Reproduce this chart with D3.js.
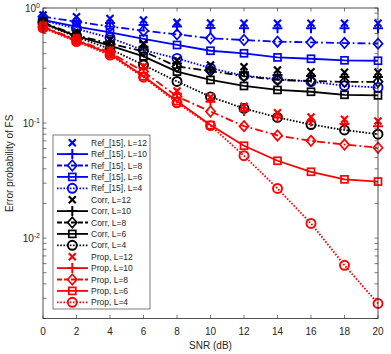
<!DOCTYPE html>
<html>
<head>
<meta charset="utf-8">
<script src="https://cdn.jsdelivr.net/npm/d3@7/dist/d3.min.js"></script>
<style>
  body { margin:0; background:#fff; }
  svg { display:block; font-family:"Liberation Sans", Arial, sans-serif; }
</style>
</head>
<body>
<script>
// SNR values (dB)
var snr = [0, 2, 4, 6, 8, 10, 12, 14, 16, 18, 20];

// Ref_[15]
var ref12 = [0.87, 0.84, 0.81, 0.785, 0.75, 0.74, 0.736, 0.736, 0.736, 0.736, 0.736];
var ref10 = [0.80, 0.77, 0.74, 0.71, 0.69, 0.67, 0.666, 0.666, 0.666, 0.666, 0.666];
var ref8  = [0.84, 0.76, 0.69, 0.635, 0.59, 0.545, 0.527, 0.51, 0.503, 0.496, 0.49];
var ref6  = [0.79, 0.69, 0.615, 0.538, 0.477, 0.425, 0.404, 0.372, 0.362, 0.351, 0.348];
var ref4  = [0.78, 0.66, 0.55, 0.43, 0.365, 0.30, 0.258, 0.241, 0.229, 0.211, 0.204];
// Corr
var corr12 = [0.77, 0.60, 0.53, 0.49, 0.35, 0.32, 0.309, 0.289, 0.279, 0.276, 0.276];
var corr10 = [0.76, 0.59, 0.51, 0.46, 0.33, 0.29, 0.277, 0.262, 0.256, 0.251, 0.251];
var corr8  = [0.75, 0.58, 0.49, 0.42, 0.31, 0.283, 0.256, 0.237, 0.232, 0.228, 0.228];
var corr6  = [0.74, 0.57, 0.47, 0.38, 0.28, 0.237, 0.21, 0.194, 0.187, 0.176, 0.174];
var corr4  = [0.73, 0.56, 0.44, 0.32, 0.23, 0.169, 0.134, 0.112, 0.097, 0.087, 0.08];
// Prop
var prop12 = [0.71, 0.55, 0.43, 0.31, 0.19, 0.168, 0.14, 0.123, 0.113, 0.108, 0.104];
var prop10 = [0.70, 0.54, 0.42, 0.30, 0.18, 0.153, 0.127, 0.112, 0.103, 0.098, 0.094];
var prop8  = [0.69, 0.53, 0.41, 0.28, 0.17, 0.126, 0.094, 0.078, 0.07, 0.065, 0.061];
var prop6  = [0.68, 0.52, 0.40, 0.255, 0.155, 0.096, 0.0635, 0.047, 0.0377, 0.0324, 0.031];
var prop4  = [0.67, 0.51, 0.39, 0.25, 0.15, 0.095, 0.052, 0.027, 0.0134, 0.0058, 0.0027];

var xTicks = [0, 2, 4, 6, 8, 10, 12, 14, 16, 18, 20];
var yTicks = [1, 0.1, 0.01];

var series = [
  {name:"Ref_[15], L=12", v:ref12, color:"#0000ff", dash:null, marker:"x"},
  {name:"Ref_[15], L=10", v:ref10, color:"#0000ff", dash:null, marker:"+"},
  {name:"Ref_[15], L=8",  v:ref8,  color:"#0000ff", dash:"dashdot", marker:"d"},
  {name:"Ref_[15], L=6",  v:ref6,  color:"#0000ff", dash:"solid", marker:"s"},
  {name:"Ref_[15], L=4",  v:ref4,  color:"#0000ff", dash:"dot", marker:"o"},
  {name:"Corr, L=12", v:corr12, color:"#000000", dash:null, marker:"x"},
  {name:"Corr, L=10", v:corr10, color:"#000000", dash:null, marker:"+"},
  {name:"Corr, L=8",  v:corr8,  color:"#000000", dash:"dashdot", marker:"d"},
  {name:"Corr, L=6",  v:corr6,  color:"#000000", dash:"solid", marker:"s"},
  {name:"Corr, L=4",  v:corr4,  color:"#000000", dash:"dot", marker:"o"},
  {name:"Prop, L=12", v:prop12, color:"#ff0000", dash:null, marker:"x"},
  {name:"Prop, L=10", v:prop10, color:"#ff0000", dash:null, marker:"+"},
  {name:"Prop, L=8",  v:prop8,  color:"#ff0000", dash:"dashdot", marker:"d"},
  {name:"Prop, L=6",  v:prop6,  color:"#ff0000", dash:"solid", marker:"s"},
  {name:"Prop, L=4",  v:prop4,  color:"#ff0000", dash:"dot", marker:"o"}
];

var width = 391, height = 354;
var mLeft = 43, mRight = 378, mTop = 8, mBottom = 318.5;
var axisColor = "#262626";

var x = d3.scaleLinear().domain([0, 20]).range([mLeft, mRight]);
var y = d3.scaleLog().domain([0.002, 1]).range([mBottom, mTop]);

var svg = d3.select("body").append("svg")
    .attr("width", width)
    .attr("height", height);

var dashes = {solid:null, dashdot:"8,3,1.8,3", dot:"1.6,1.6"};

function drawMarker(g, type, color) {
  if (type == "x") {
    g.append("path").attr("d", "M-3.5,-3.5L3.5,3.5M-3.5,3.5L3.5,-3.5")
      .attr("stroke", color).attr("stroke-width", 2.2).attr("fill", "none");
  } else if (type == "+") {
    g.append("path").attr("d", "M-5,0L5,0M0,-5L0,5")
      .attr("stroke", color).attr("stroke-width", 2).attr("fill", "none");
  } else if (type == "d") {
    g.append("path").attr("d", "M0,-5.2L4.6,0L0,5.2L-4.6,0Z")
      .attr("stroke", color).attr("stroke-width", 1.7).attr("fill", "none");
  } else if (type == "s") {
    g.append("rect").attr("x", -3.5).attr("y", -3.5).attr("width", 7).attr("height", 7)
      .attr("stroke", color).attr("stroke-width", 1.7).attr("fill", "none");
  } else if (type == "o") {
    g.append("circle").attr("r", 4.5)
      .attr("stroke", color).attr("stroke-width", 1.9).attr("fill", "none");
  }
}

var plot = svg.append("g");

// ticks
var tk = svg.append("g").attr("stroke", axisColor).attr("stroke-width", 0.6);
xTicks.forEach(function(t) {
  tk.append("line").attr("x1", x(t)).attr("x2", x(t)).attr("y1", mBottom).attr("y2", mBottom - 3.5);
  tk.append("line").attr("x1", x(t)).attr("x2", x(t)).attr("y1", mTop).attr("y2", mTop + 3.5);
});
var minor = y.ticks();
minor.forEach(function(t) {
  tk.append("line").attr("x1", mLeft).attr("x2", mLeft + 3.5).attr("y1", y(t)).attr("y2", y(t));
  tk.append("line").attr("x1", mRight).attr("x2", mRight - 3.5).attr("y1", y(t)).attr("y2", y(t));
});

// lines and markers
var line = d3.line().x(function(d, i) { return x(snr[i]); }).y(function(d) { return y(d); });
series.forEach(function(s) {
  if (s.dash) {
    plot.append("path").datum(s.v)
      .attr("d", line)
      .attr("fill", "none")
      .attr("stroke", s.color)
      .attr("stroke-width", 1.8)
      .attr("stroke-dasharray", dashes[s.dash]);
  }
  s.v.forEach(function(d, i) {
    var g = plot.append("g").attr("transform", "translate(" + x(snr[i]) + "," + y(d) + ")");
    drawMarker(g, s.marker, s.color);
  });
});

svg.append("rect").attr("x", mLeft).attr("y", mTop)
  .attr("width", mRight - mLeft).attr("height", mBottom - mTop)
  .attr("fill", "none").attr("stroke", axisColor).attr("stroke-width", 0.8);

// tick labels
xTicks.forEach(function(t) {
  svg.append("text").attr("x", x(t)).attr("y", 335)
    .attr("text-anchor", "middle").attr("font-size", 10).attr("fill", axisColor)
    .text(t);
});
var exps = ["0", "-1", "-2"];
yTicks.forEach(function(t, i) {
  var txt = svg.append("text").attr("x", 40).attr("y", y(t) + 4)
    .attr("text-anchor", "end").attr("font-size", 10).attr("fill", axisColor);
  txt.append("tspan").text("10");
  txt.append("tspan").attr("dy", -4).attr("font-size", 7).text(exps[i]);
});

svg.append("text").attr("x", (mLeft + mRight) / 2).attr("y", 349)
  .attr("text-anchor", "middle").attr("font-size", 10).attr("fill", axisColor)
  .text("SNR (dB)");
svg.append("text")
  .attr("transform", "translate(13," + ((mTop + mBottom) / 2) + ") rotate(-90)")
  .attr("text-anchor", "middle").attr("font-size", 10).attr("fill", axisColor)
  .text("Error probability of FS");

// legend
var lg = svg.append("g");
lg.append("rect").attr("x", 53).attr("y", 135).attr("width", 97).attr("height", 174)
  .attr("fill", "#fff").attr("stroke", axisColor).attr("stroke-width", 0.6);
series.forEach(function(s, i) {
  var yy = 142.7 + i * 11.4;
  if (s.dash || s.marker == "+") {
    lg.append("line").attr("x1", 57).attr("x2", 88).attr("y1", yy).attr("y2", yy)
      .attr("stroke", s.color).attr("stroke-width", 1.8)
      .attr("stroke-dasharray", s.dash == "dashdot" ? "5,2" : (s.dash ? dashes[s.dash] : null));
  }
  var g = lg.append("g").attr("transform", "translate(72.3," + yy + ")");
  drawMarker(g, s.marker, s.color);
  lg.append("text").attr("x", 91).attr("y", yy + 3).attr("font-size", 8.5).attr("fill", axisColor)
    .text(s.name);
});
</script>
</body>
</html>
